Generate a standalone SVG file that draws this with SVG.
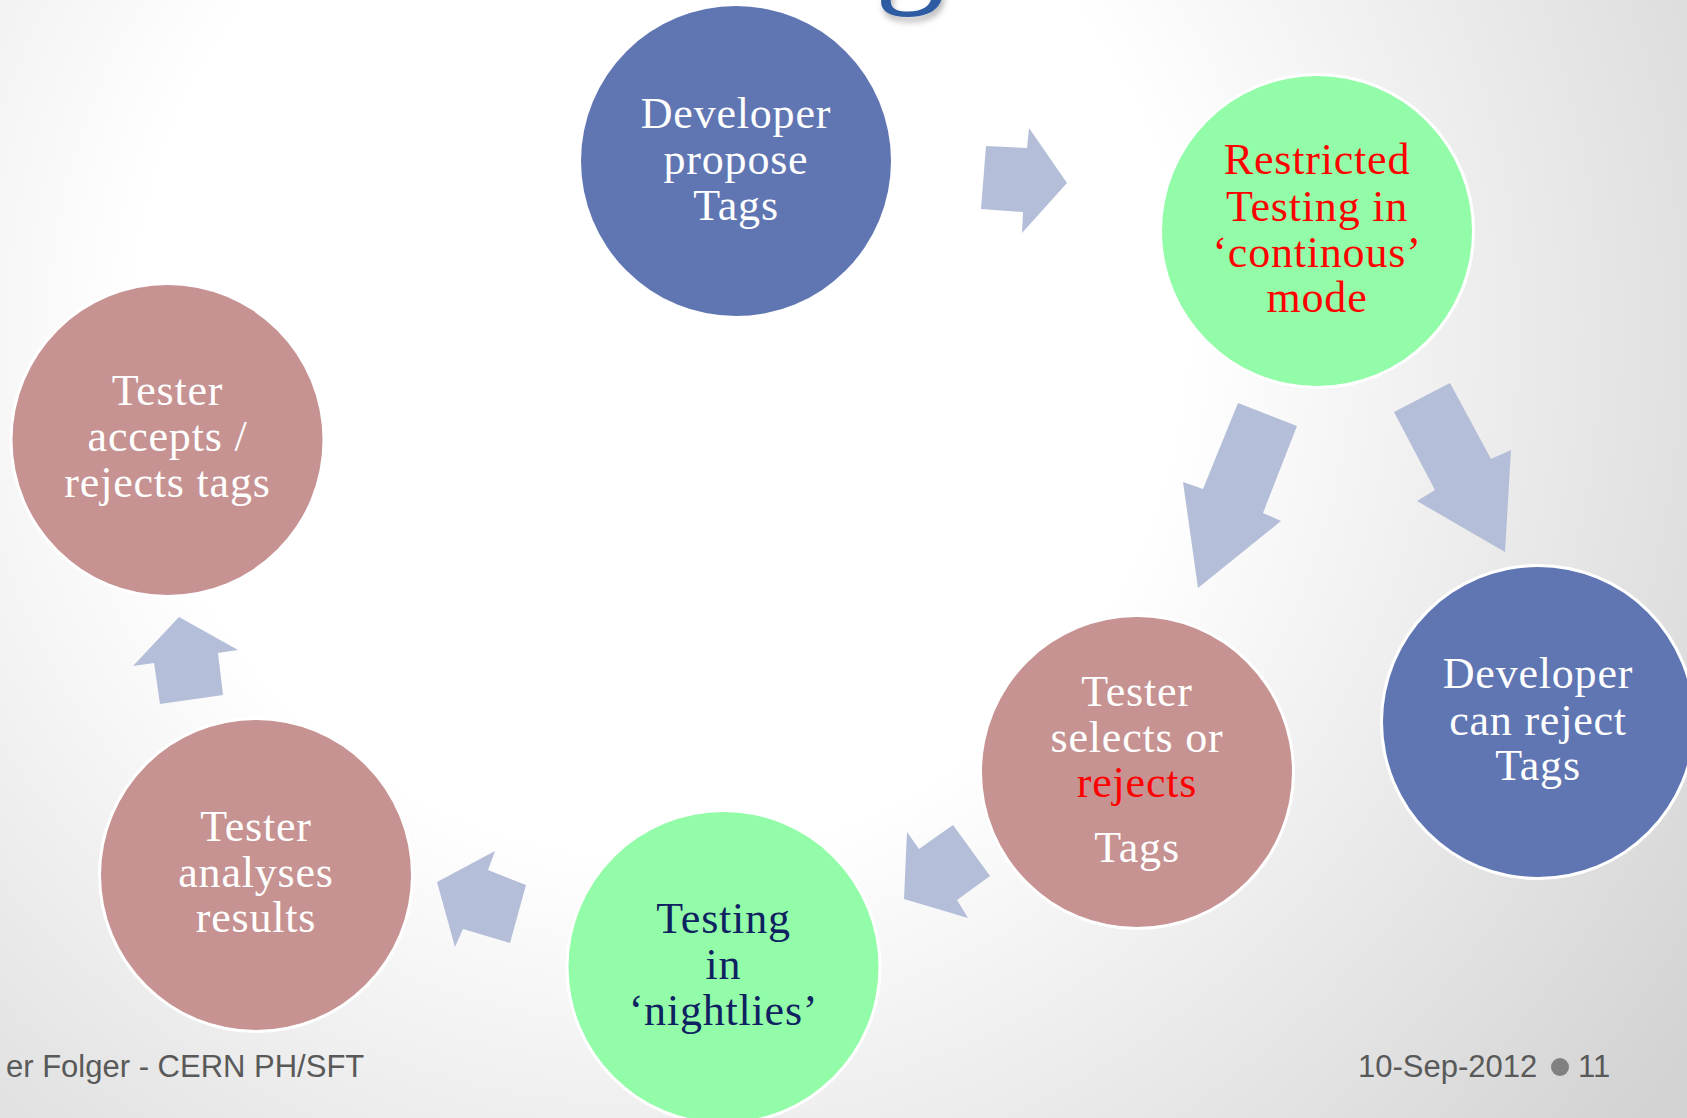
<svg xmlns="http://www.w3.org/2000/svg" width="1687" height="1118" viewBox="0 0 1687 1118">
  <defs>
    <radialGradient id="bg" gradientUnits="userSpaceOnUse" cx="660" cy="330" r="1250">
      <stop offset="0" stop-color="#ffffff"/>
      <stop offset="0.42" stop-color="#ffffff"/>
      <stop offset="1" stop-color="#d3d3d3"/>
    </radialGradient>
    <filter id="titleShadow" x="-30%" y="-30%" width="160%" height="180%">
      <feDropShadow dx="2" dy="5" stdDeviation="3" flood-color="#000000" flood-opacity="0.28"/>
    </filter>
    <style>
      .node { stroke: #ffffff; stroke-width: 6; paint-order: stroke; }
      .blue { fill: #6076b3; }
      .rose { fill: #c69392; }
      .green { fill: #93fca8; }
      .label { font-family: "Liberation Serif", "Times New Roman", serif; font-size: 44px; letter-spacing: 0.8px; text-anchor: middle; }
      .white { fill: #ffffff; }
      .red { fill: #ff0000; }
      .navy { fill: #0e2160; }
      .arrow { fill: #b4bed8; }
      .foot { font-family: "Liberation Sans", Arial, sans-serif; font-size: 31px; fill: #595959; }
    </style>
  </defs>

  <!-- slide background -->
  <rect x="0" y="0" width="1687" height="1118" fill="url(#bg)"/>

  <!-- descender of the slide title, cut by the top edge -->
  <text x="910" y="-13" font-family="'Liberation Serif', serif" font-size="140" fill="#2e5ca2" text-anchor="middle" filter="url(#titleShadow)">g</text>

  <!-- block arrows between the steps -->
  <g id="connectors">
    <polygon class="arrow" points="986,146 1027,148 1029,128 1067,183 1022,233 1023,212 981,209"/>
    <polygon class="arrow" points="1238,403 1297,426 1263,513 1281,521 1198,588 1183,482 1203,489"/>
    <polygon class="arrow" points="1394,412 1450,383 1491,459 1511,450 1505,552 1417,501 1435,490"/>
    <polygon class="arrow" points="953,825 990,876 957,900 968,918 904,899 907,832 919,849"/>
    <polygon class="arrow" points="495,851 488,870 526,885 510,943 463,929 455,947 437,882"/>
    <polygon class="arrow" points="179,617 238,650 218,653 223,695 160,704 154,663 133,666"/>
  </g>

  <g id="dev-propose">
    <circle class="node blue" cx="736" cy="161" r="155"/>
    <text class="label white" x="736" y="128">Developer</text>
    <text class="label white" x="736" y="174">propose</text>
    <text class="label white" x="736" y="220">Tags</text>
  </g>

  <g id="restricted-testing">
    <circle class="node green" cx="1317" cy="231" r="155"/>
    <text class="label red" x="1317" y="174">Restricted</text>
    <text class="label red" x="1317" y="221">Testing in</text>
    <text class="label red" x="1317" y="267">‘continous’</text>
    <text class="label red" x="1317" y="312">mode</text>
  </g>

  <g id="dev-reject">
    <circle class="node blue" cx="1538" cy="722" r="155"/>
    <text class="label white" x="1538" y="688">Developer</text>
    <text class="label white" x="1538" y="735">can reject</text>
    <text class="label white" x="1538" y="780">Tags</text>
  </g>

  <g id="tester-selects">
    <circle class="node rose" cx="1137" cy="772" r="155"/>
    <text class="label white" x="1137" y="706">Tester</text>
    <text class="label white" x="1137" y="752">selects or</text>
    <text class="label red" x="1137" y="797">rejects</text>
    <text class="label white" x="1137" y="862">Tags</text>
  </g>

  <g id="nightlies">
    <circle class="node green" cx="723.5" cy="967" r="155"/>
    <text class="label navy" x="723.5" y="933">Testing</text>
    <text class="label navy" x="723.5" y="979">in</text>
    <text class="label navy" x="723.5" y="1025">‘nightlies’</text>
  </g>

  <g id="tester-analyses">
    <circle class="node rose" cx="256" cy="875" r="155"/>
    <text class="label white" x="256" y="841">Tester</text>
    <text class="label white" x="256" y="887">analyses</text>
    <text class="label white" x="256" y="932">results</text>
  </g>

  <g id="tester-accepts">
    <circle class="node rose" cx="167.5" cy="440" r="155"/>
    <text class="label white" x="167.5" y="405">Tester</text>
    <text class="label white" x="167.5" y="451">accepts /</text>
    <text class="label white" x="167.5" y="497">rejects tags</text>
  </g>

  <!-- footer -->
  <text class="foot" x="6" y="1077">er Folger - CERN PH/SFT</text>
  <text class="foot" x="1358" y="1077">10-Sep-2012</text>
  <circle cx="1560" cy="1067" r="9" fill="#808080"/>
  <text class="foot" x="1578" y="1077">11</text>
</svg>
